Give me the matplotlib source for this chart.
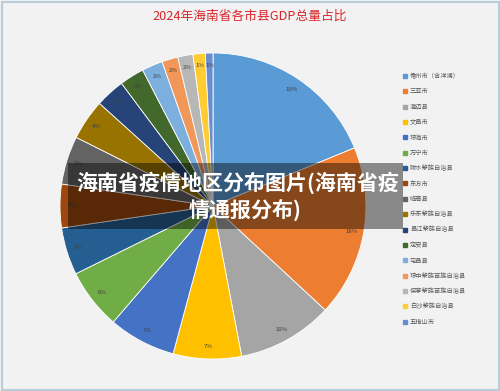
import matplotlib
matplotlib.use('Agg')
import matplotlib.pyplot as plt
from matplotlib.lines import Line2D
from matplotlib.patches import Rectangle

plt.rcParams['font.family'] = ['Noto Sans CJK SC', 'DejaVu Sans']

# 各市县及占比
cities = ['儋州市（含洋浦）', '三亚市', '澄迈县', '文昌市', '琼海市', '万宁市',
          '陵水黎族自治县', '东方市', '临高县', '乐东黎族自治县', '昌江黎族自治县',
          '定安县', '屯昌县', '琼中黎族苗族自治县', '保亭黎族苗族自治县',
          '白沙黎族自治县', '五指山市']
shares = [18.8, 18.1, 10.1, 7.2, 7.1, 6.4, 5.0, 4.6, 5.1, 4.3, 3.1,
          2.6, 2.2, 1.7, 1.6, 1.3, 0.8]
colors = ['#5B9BD5', '#ED7D31', '#A5A5A5', '#FFC000', '#4472C4', '#70AD47',
          '#255E91', '#9E480E', '#636363', '#997300', '#264478', '#43682B',
          '#7CAFDD', '#F1975A', '#B7B7B7', '#FFCD33', '#698ED0']

W, H = 500, 391
fig = plt.figure(figsize=(W / 100, H / 100), dpi=100)
fig.patch.set_facecolor('#F2F2F2')

# 外边框
fig.patches.append(Rectangle((1.5 / W, 1.5 / H), 1 - 3 / W, 1 - 3 / H,
                             transform=fig.transFigure, fill=False,
                             edgecolor='#B9CCD9', linewidth=1.5))

# 饼图
cx, cy, r = 213, 206, 153
ax = fig.add_axes([(cx - r) / W, (H - cy - r) / H, 2 * r / W, 2 * r / H])
wedges, texts, autotexts = ax.pie(
    shares, colors=colors, startangle=90, counterclock=False,
    autopct='%.0f%%', pctdistance=0.92,
    wedgeprops=dict(edgecolor='white', linewidth=0.6),
    textprops=dict(fontsize=4.3, color='#404040'))
ax.set_xlim(-1, 1)
ax.set_ylim(-1, 1)
ax.set_aspect('auto')
ax.axis('off')

# 标题
fig.text(250 / W, 1 - 16 / H, '2024年海南省各市县GDP总量占比',
         ha='center', va='center', fontsize=9.2, color='#D9262B')

# 图例
handles = [Line2D([], [], marker='s', linestyle='none', markersize=2.6,
                  markerfacecolor=c, markeredgecolor=c) for c in colors]
leg = fig.legend(handles, cities, loc='upper left',
                 bbox_to_anchor=(403 / W, 1 - 72 / H), frameon=False,
                 fontsize=4.5, labelcolor='#595959', handlelength=0.6,
                 handletextpad=0.5, labelspacing=1.18, borderaxespad=0,
                 borderpad=0)

# 半透明横幅
fig.patches.append(Rectangle((68 / W, 1 - 229 / H), (403 - 68) / W, 66 / H,
                             transform=fig.transFigure, facecolor='black',
                             alpha=0.43, edgecolor='none', zorder=5))
fig.text(238 / W, 1 - 183 / H, '海南省疫情地区分布图片(海南省疫',
         ha='center', va='center', fontsize=15.1, fontweight='bold',
         color='white', zorder=6)
fig.text(245 / W, 1 - 210 / H, '情通报分布)',
         ha='center', va='center', fontsize=15.1, fontweight='bold',
         color='white', zorder=6)

fig.savefig('out.png', dpi=100, facecolor=fig.get_facecolor())
